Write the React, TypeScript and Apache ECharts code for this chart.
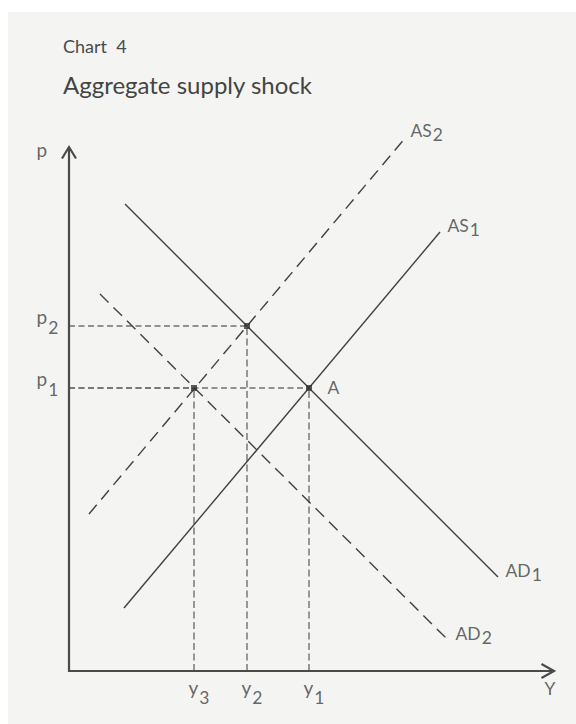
import React, { useEffect, useRef } from "react";
import * as echarts from "echarts";

const FONT = "Lato, 'Noto Sans', sans-serif";
const INK = "#404040";
const GUIDE = "#707070";
const BG = "#f4f5f3";

// chart units: 1 unit = 1 px, origin at the axes' corner
const X_MIN = -61;
const X_MAX = 507;
const Y_MIN = -53;
const Y_MAX = 659;

const xAxisEnd = 485;
const yAxisEnd = 524;

// curves: [start, end]
const AS1 = [[55, 63], [371, 439]];
const AS2 = [[20, 157], [337, 534]];
const AD1 = [[56, 467], [429, 94]];
const AD2 = [[31, 377], [379, 31]];

// equilibrium points [y, p]
const equilibria = [[240, 283], [178, 345], [125, 283]];

const pLevels = [283, 345];
const pNames = ["1", "2"];
const yLevels = [240, 178, 125];
const yNames = ["1", "2", "3"];

const curveNames = ["AS", "AS", "AD", "AD"];
const curveSubs = ["1", "2", "1", "2"];

function lineSeries(data: number[][], width: number, color: string, type: any, z = 2) {
  return {
    type: "line",
    data,
    symbol: "none",
    silent: true,
    animation: false,
    clip: false,
    z,
    lineStyle: { width, color, type, cap: "butt", join: "miter" },
  };
}

export default function App() {
  const ref = useRef<HTMLDivElement>(null);
  useEffect(() => {
    if (!ref.current) return;
    const chart = echarts.init(ref.current, undefined, { renderer: "svg" });

    const series: any[] = [];
    // axes
    series.push(lineSeries([[0, yAxisEnd], [0, 0], [xAxisEnd, 0]], 2.2, "#4a4a4a", "solid", 5));
    series.push(lineSeries([[-7, yAxisEnd - 11.5], [0, yAxisEnd], [7, yAxisEnd - 11.5]], 2.2, "#4a4a4a", "solid", 5));
    series.push(lineSeries([[xAxisEnd - 12.5, 7], [xAxisEnd, 0], [xAxisEnd - 12.5, -7]], 2.2, "#4a4a4a", "solid", 5));
    // guides
    equilibria.forEach(([x, p]) => {
      series.push(lineSeries([[0, p], [x, p]], 1.4, GUIDE, [6, 3.5], 1));
      series.push(lineSeries([[x, 0], [x, p]], 1.4, GUIDE, [7, 3.5], 1));
    });
    // curves
    series.push(lineSeries(AD1, 1.4, INK, "solid", 3));
    series.push(lineSeries(AS1, 1.4, INK, "solid", 3));
    series.push(lineSeries(AS2, 1.4, INK, [12, 7], 3));
    series.push(lineSeries(AD2, 1.4, INK, [12, 7], 3));
    // points
    series.push({
      type: "scatter",
      data: equilibria,
      symbol: "rect",
      symbolSize: 6,
      itemStyle: { color: "#333" },
      silent: true,
      z: 6,
    });

    const curveEnds = [AS1[1], AS2[1], AD1[1], AD2[1]];
    const curveOffsets = [[8, -15.5], [5, -15.25], [8, -15], [8, -15]];
    const labelItems: any[] = [];
    curveEnds.forEach((pt, i) => {
      labelItems.push({
        value: pt,
        label: { formatter: `{m|${curveNames[i]}}{su|${curveSubs[i]}}`, position: curveOffsets[i] },
      });
    });
    labelItems.push({ value: [240, 283], label: { formatter: "{m|A}", position: [19, -9.5] } });
    labelItems.push({ value: [xAxisEnd, 0], label: { formatter: "{m|Y}", position: [-9, 9] } });
    labelItems.push({ value: [0, yAxisEnd], label: { formatter: "{ml|p}", position: [-32, -7] } });
    pLevels.forEach((p, i) => {
      labelItems.push({ value: [0, p], label: { formatter: `{ml|p}{sl|${pNames[i]}}`, position: [-32, -18.5] } });
    });
    yLevels.forEach((y, i) => {
      labelItems.push({ value: [y, 0], label: { formatter: `{ml|y}{sl|${yNames[i]}}`, position: [-5, 7] } });
    });

    const base = { fontSize: 17.5, fontFamily: FONT, color: INK, verticalAlign: "top" };
    series.push({
      type: "scatter",
      data: labelItems,
      symbolSize: 1,
      itemStyle: { color: "rgba(0,0,0,0)" },
      silent: true,
      z: 7,
      label: {
        show: true,
        align: "left",
        verticalAlign: "top",
        rich: {
          m: { ...base },
          ml: { ...base, fontSize: 19 },
          su: { ...base, padding: [4, 0, 0, 1] },
          sl: { ...base, padding: [11, 0, 0, 1] },
        },
      },
    });

    chart.setOption({
      animation: false,
      backgroundColor: BG,
      grid: { left: 0, right: 0, top: 0, bottom: 0 },
      xAxis: { type: "value", min: X_MIN, max: X_MAX, show: false },
      yAxis: { type: "value", min: Y_MIN, max: Y_MAX, show: false },
      graphic: [
        {
          type: "text",
          x: 55,
          y: 33.5,
          style: { text: "Chart\u00a0\u00a04", fontSize: 18, fontFamily: FONT, fill: "#4a4a4a", verticalAlign: "middle" },
        },
        {
          type: "text",
          x: 55,
          y: 72.5,
          style: { text: "Aggregate supply shock", fontSize: 24, fontFamily: FONT, fill: "#444", verticalAlign: "middle" },
        },
      ],
      series,
    });
    return () => chart.dispose();
  }, []);
  return (
    <div
      ref={ref}
      style={{ position: "absolute", left: 8, top: 12, width: 568, height: 712, background: BG }}
    />
  );
}
